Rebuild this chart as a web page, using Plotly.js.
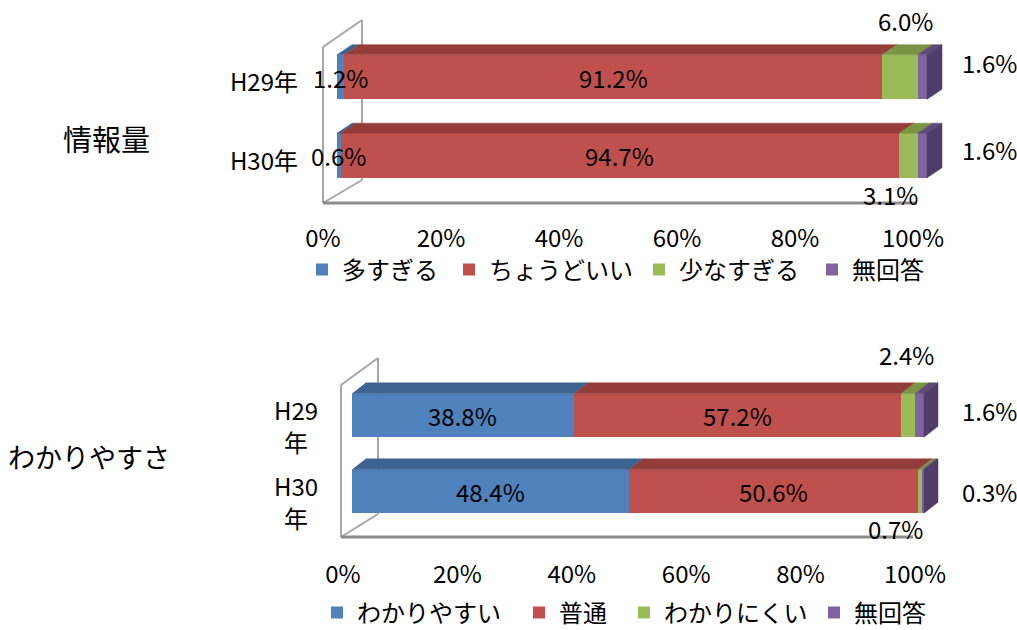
<!DOCTYPE html>
<html><head><meta charset="utf-8">
<script src="https://cdn.plot.ly/plotly-3.0.1.min.js"></script>
<style>
html,body{margin:0;padding:0;background:#fff;width:1017px;height:630px;overflow:hidden}
#frame{width:1017px;height:630px;overflow:hidden;position:relative}
#chart{width:1017px;height:650px}
</style>
</head><body><div id="frame"><div id="chart"></div></div>
<script>
// ---------- data ----------
const years = ['H29年', 'H30年'];
const yearsTwoLine = ['H29<br>年', 'H30<br>年'];
const infoTitle = '情報量';
const infoCategories = ['多すぎる', 'ちょうどいい', '少なすぎる', '無回答'];
const infoH29 = [1.2, 91.2, 6.0, 1.6];
const infoH30 = [0.6, 94.7, 3.1, 1.6];
const clarityTitle = 'わかりやすさ';
const clarityCategories = ['わかりやすい', '普通', 'わかりにくい', '無回答'];
const clarityH29 = [38.8, 57.2, 2.4, 1.6];
const clarityH30 = [48.4, 50.6, 0.7, 0.3];
const xTickVals = [0, 20, 40, 60, 80, 100];
const xTickText = ['0%', '20%', '40%', '60%', '80%', '100%'];

// ---------- styles / layout ----------
const W = 1017, PH = 650;   // paper is a bit taller than the 630px view so the lower legend can sit low
const FONT = "'Noto Sans CJK JP', 'Noto Sans', sans-serif";
const frontColors = ['#4F81BD', '#C0504D', '#9BBB59', '#8064A2'];
const topColors = ['#3D6491', '#933C3A', '#7A9444', '#5E4979'];
const sideColor = '#4F3C68';
const wallColor = '#A6A6A6';
const floorColor = '#8C8C8C';
const BAR_W = 0.57;
const LABEL_SIZE = 24;

const panels = [
  {
    title: infoTitle, cats: infoCategories, rows: [infoH29, infoH30],
    xa: 'x', ya: 'y', twoLineLabels: false, legends: ['legend', 'legend2', 'legend3', 'legend4'],
    g: {plotLeft: 323, plotRight: 975, plotTop: 20, plotBottom: 203, barLeft: 337, ppu: 5.9,
        rowTop: 77, rowBottom: 155.5, depthX: 15, depthY: 10,
        tickShift: -14, tickStandoff: 19, yLabelShift: 6, yLabelStandoff: 24,
        titleX: 106, titleY: 138, titleSize: 29,
        legendTextX: [340, 487, 677, 850], legendY: 270,
        wall: [[323,47,323,203],[323,47,362,20],[362,20,362,180],[362,180,323,203]],
        floor: [323,203,917,203]},
    place: {'0-2': {mode: 'above', dx: 6, dy: 24}, '0-3': {mode: 'right', dx: 33, dy: 15},
            '1-2': {mode: 'below', dx: -18, dy: -17}, '1-3': {mode: 'right', dx: 33, dy: 6}}
  },
  {
    title: clarityTitle, cats: clarityCategories, rows: [clarityH29, clarityH30],
    xa: 'x2', ya: 'y2', twoLineLabels: true, legends: ['legend5', 'legend6', 'legend7', 'legend8'],
    g: {plotLeft: 341, plotRight: 975, plotTop: 358, plotBottom: 537, barLeft: 352, ppu: 5.72,
        rowTop: 415.5, rowBottom: 491.5, depthX: 14, depthY: 11,
        tickShift: -9, tickStandoff: 21, labelX: 296, labelShift: -10, labelLineGap: 32,
        titleX: 89, titleY: 456, titleSize: 27,
        legendTextX: [355, 557, 662, 852], legendY: 613,
        wall: [[341,385,341,537],[341,385,378,358],[378,358,378,514],[378,514,341,537]],
        floor: [341,537,913,537]},
    place: {'0-2': {mode: 'above', dx: -1, dy: 28}, '0-3': {mode: 'right', dx: 36, dy: 5},
            '1-2': {mode: 'below', dx: -25, dy: -15}, '1-3': {mode: 'right', dx: 36, dy: 0}}
  }
];

const traces = [];
const annotations = [];
const shapes = [];
const layout = {
  width: W, height: PH, margin: {l: 0, r: 0, t: 0, b: 0},
  paper_bgcolor: '#fff', plot_bgcolor: 'rgba(0,0,0,0)',
  barmode: 'stack', bargap: 0, showlegend: true,
  font: {family: FONT, size: 24, color: '#000'},
  annotations: annotations, shapes: shapes
};

const px2paperX = p => p / W;
const px2paperY = p => 1 - p / PH;

panels.forEach((P, pi) => {
  const g = P.g;
  const unit = g.rowBottom - g.rowTop;           // px per y unit
  const nRows = P.rows.length;
  const yOf = r => nRows - 1 - r;
  const dxU = g.depthX / g.ppu, dyU = g.depthY / unit;
  const hw = BAR_W / 2;
  const axX = pi === 0 ? 'xaxis' : 'xaxis2';
  const axY = pi === 0 ? 'yaxis' : 'yaxis2';

  layout[axX] = {
    domain: [px2paperX(g.plotLeft), px2paperX(g.plotRight)],
    range: [(g.plotLeft - g.barLeft) / g.ppu, (g.plotRight - g.barLeft) / g.ppu],
    anchor: P.ya, fixedrange: true, showgrid: false, zeroline: false, showline: false, ticks: '',
    tickmode: 'array', tickvals: xTickVals, ticktext: xTickText,
    ticklabelshift: g.tickShift, ticklabelstandoff: g.tickStandoff,
    tickfont: {family: FONT, size: LABEL_SIZE, color: '#000'}
  };
  layout[axY] = {
    domain: [px2paperY(g.plotBottom), px2paperY(g.plotTop)],
    range: [(g.rowBottom - g.plotBottom) / unit, (g.rowBottom - g.plotTop) / unit],
    anchor: P.xa, fixedrange: true, showgrid: false, zeroline: false, showline: false, ticks: '',
    tickmode: 'array', tickvals: P.rows.map((_, r) => yOf(r)),
    ticktext: P.twoLineLabels ? P.rows.map(() => '') : years,
    showticklabels: !P.twoLineLabels,
    ticklabelshift: g.yLabelShift || 0, ticklabelstandoff: g.yLabelStandoff || 0,
    tickfont: {family: FONT, size: LABEL_SIZE, color: '#000'}
  };

  // wall & floor (decoration)
  g.wall.forEach(s => shapes.push({type: 'line', xref: 'paper', yref: 'paper', layer: 'below',
    x0: px2paperX(s[0]), y0: px2paperY(s[1]), x1: px2paperX(s[2]), y1: px2paperY(s[3]),
    line: {color: wallColor, width: 2}}));
  shapes.push({type: 'line', xref: 'paper', yref: 'paper', layer: 'below',
    x0: px2paperX(g.floor[0]), y0: px2paperY(g.floor[1]), x1: px2paperX(g.floor[2]), y1: px2paperY(g.floor[3]),
    line: {color: floorColor, width: 3}});

  // front faces: stacked bars
  P.cats.forEach((cat, ci) => {
    traces.push({
      type: 'bar', orientation: 'h', name: cat, legend: P.legends[ci],
      x: P.rows.map(row => row[ci]), y: P.rows.map((_, r) => yOf(r)),
      width: BAR_W, xaxis: P.xa, yaxis: P.ya,
      marker: {color: frontColors[ci], line: {width: 0}}, hoverinfo: 'skip'
    });
    layout[P.legends[ci]] = {orientation: 'h', x: px2paperX(g.legendTextX[ci] - 38), y: px2paperY(g.legendY),
      xanchor: 'left', yanchor: 'middle', xref: 'paper', yref: 'paper',
      bgcolor: 'rgba(0,0,0,0)', borderwidth: 0,
      font: {family: FONT, size: 24, color: '#000'}, itemclick: false, itemdoubleclick: false};
  });

  // top faces and right side face, computed from the data
  P.cats.forEach((cat, ci) => {
    const xs = [], ys = [];
    P.rows.forEach((row, r) => {
      const a = row.slice(0, ci).reduce((s, v) => s + v, 0);
      const b = a + row[ci];
      const yt = yOf(r) + hw;
      xs.push(a, b, b + dxU, a + dxU, a, null);
      ys.push(yt, yt, yt + dyU, yt + dyU, yt, null);
    });
    traces.push({type: 'scatter', mode: 'lines', x: xs, y: ys, fill: 'toself',
      fillcolor: topColors[ci], line: {width: 0.5, color: topColors[ci]},
      xaxis: P.xa, yaxis: P.ya, showlegend: false, hoverinfo: 'skip'});
  });
  {
    const xs = [], ys = [];
    P.rows.forEach((row, r) => {
      const e = row.reduce((s, v) => s + v, 0);
      const yt = yOf(r) + hw, yb = yOf(r) - hw;
      xs.push(e, e, e + dxU, e + dxU, e, null);
      ys.push(yb, yt, yt + dyU, yb + dyU, yb, null);
    });
    traces.push({type: 'scatter', mode: 'lines', x: xs, y: ys, fill: 'toself',
      fillcolor: sideColor, line: {width: 0.5, color: sideColor},
      xaxis: P.xa, yaxis: P.ya, showlegend: false, hoverinfo: 'skip'});
  }

  // data labels
  P.rows.forEach((row, r) => {
    let cum = 0;
    const end = row.reduce((s, x) => s + x, 0);
    row.forEach((v, ci) => {
      const a = cum, b = cum + v; cum = b;
      const txt = v.toFixed(1) + '%';
      const pl = P.place[r + '-' + ci];
      const base = {xref: P.xa, yref: P.ya, text: txt, showarrow: false,
        font: {family: FONT, size: LABEL_SIZE, color: '#000'}};
      if (!pl) {
        annotations.push(Object.assign(base, {x: (a + b) / 2, y: yOf(r), xanchor: 'center', yanchor: 'middle'}));
      } else if (pl.mode === 'above') {
        annotations.push(Object.assign(base, {x: (a + b) / 2, y: yOf(r) + hw + dyU, xanchor: 'center', yanchor: 'middle', xshift: pl.dx, yshift: pl.dy}));
      } else if (pl.mode === 'below') {
        annotations.push(Object.assign(base, {x: (a + b) / 2, y: yOf(r) - hw, xanchor: 'center', yanchor: 'middle', xshift: pl.dx, yshift: pl.dy}));
      } else {
        annotations.push(Object.assign(base, {x: end, y: yOf(r), xanchor: 'left', yanchor: 'middle', xshift: pl.dx, yshift: pl.dy}));
      }
    });
  });

  // two-line row labels for the lower panel (one annotation per line, centred)
  if (P.twoLineLabels) {
    yearsTwoLine.forEach((lab, r) => {
      const lines = lab.split('<br>');
      lines.forEach((ln, li) => {
        const off = (li - (lines.length - 1) / 2) * g.labelLineGap;
        annotations.push({xref: 'paper', yref: P.ya, x: px2paperX(g.labelX), y: yOf(r),
          text: ln, showarrow: false, xanchor: 'center', yanchor: 'middle',
          yshift: g.labelShift - off,
          font: {family: FONT, size: LABEL_SIZE, color: '#000'}});
      });
    });
  }

  // group title
  annotations.push({xref: 'paper', yref: 'paper', x: px2paperX(g.titleX), y: px2paperY(g.titleY),
    text: P.title, showarrow: false, xanchor: 'center', yanchor: 'middle',
    font: {family: FONT, size: g.titleSize, color: '#000'}});
});

Plotly.newPlot('chart', traces, layout, {displayModeBar: false, staticPlot: true});
</script>
</body></html>
